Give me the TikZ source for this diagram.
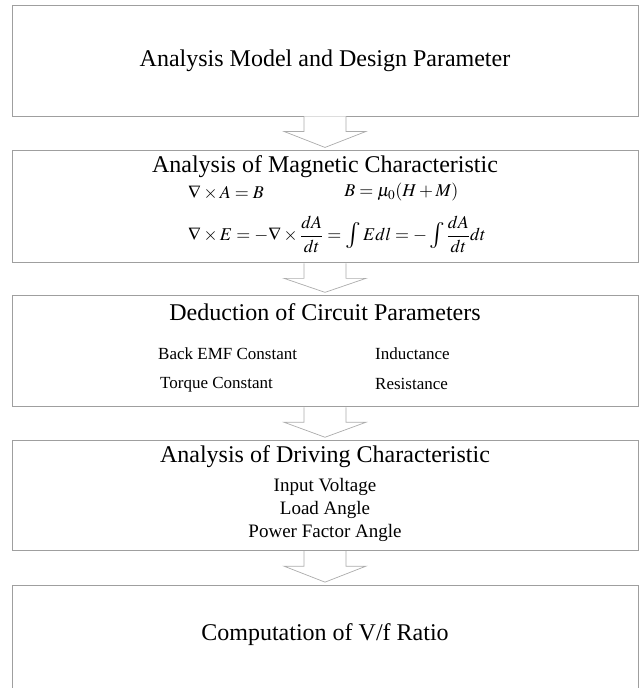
\documentclass[tikz,border=0pt]{standalone}
\usepackage{mathptmx}
\usepackage{graphicx}
\usepackage{fontspec}
\setmainfont{Liberation Serif}
\usetikzlibrary{positioning,calc}
\newcommand{\midint}{\mathop{\smash{\vcenter{\hbox{\scalebox{1.45}{$\int$}}}}}\nolimits}

\begin{document}
\begin{tikzpicture}[x=1pt, y=1pt,
  box/.style={draw=gray!75, line width=0.9pt, minimum width=626pt, inner sep=0pt},
  ttl/.style={font=\fontsize{24}{28}\selectfont, inner sep=0pt},
  itm/.style={font=\fontsize{17}{20}\selectfont, inner sep=0pt},
  drv/.style={font=\fontsize{19}{22}\selectfont, inner sep=0pt},
  eqn/.style={font=\fontsize{18}{22}\selectfont, inner sep=0pt},
  flow/.style={draw=gray!65, line width=0.7pt, fill=white},
]
  \clip (0,0) rectangle (639,-688);

  % Stage boxes
  \node[box, minimum height=111pt, ttl] (b1) at (325,-60.5) {Analysis Model and Design Parameter};
  \node[box, minimum height=112pt, below=34pt of b1] (b2) {};
  \node[box, minimum height=111pt, below=32pt of b2] (b3) {};
  \node[box, minimum height=110pt, below=33pt of b3] (b4) {};
  \node[box, minimum height=130pt, below=34pt of b4] (b5) {};

  % Magnetic characteristic
  \node[ttl] (t2) at ([yshift=-16]b2.north) {Analysis of Magnetic Characteristic};
  \node[eqn] (e2) at ([xshift=12, yshift=-84]b2.north)
    {$\displaystyle \nabla\times E=-\nabla\times\frac{dA}{dt}=\midint Edl
      =-\midint\frac{dA}{dt}dt$};
  \coordinate (r1) at ([yshift=-42]b2.north);
  \node[eqn, anchor=west] (e1a) at (r1 -| e2.west) {$\nabla\times A=B$};
  \node[eqn, right=80pt of e1a] (e1b) {$B=\mu_0(H+M)$};

  % Circuit parameters
  \node[ttl] (t3) at ([yshift=-17]b3.north) {Deduction of Circuit Parameters};
  \node[itm, anchor=west] (k1) at ([xshift=-167, yshift=-58]b3.north) {Back EMF Constant};
  \node[itm, anchor=west] (k2) at ([xshift=-165, yshift=-89]b3.north) {Torque Constant};
  \node[itm, anchor=west] (k3) at ([xshift=50, yshift=-58]b3.north) {Inductance};
  \node[itm, anchor=west] (k4) at ([xshift=50, yshift=-89]b3.north) {Resistance};

  % Driving characteristic
  \node[ttl] (t4) at ([yshift=-16]b4.north) {Analysis of Driving Characteristic};
  \node[drv] (d1) at ([yshift=-47]b4.north) {Input Voltage};
  \node[drv] (d2) at ([yshift=-70]b4.north) {Load Angle};
  \node[drv] (d3) at ([yshift=-93]b4.north) {Power Factor Angle};

  % V/f ratio
  \node[ttl] (t5) at ([yshift=-49]b5.north) {Computation of V/f Ratio};

  % Hollow block arrows between stages
  \foreach \a/\b in {b1/b2, b2/b3, b3/b4, b4/b5}
    \draw[flow] ($(\a.south)+(-21,0)$) -- ++(0,-15) -- ++(-20,0)
      -- ($(\b.north)+(0,3)$) -- ($(\a.south)+(41,-15)$) -- ++(-20,0)
      -- ($(\a.south)+(21,0)$);
\end{tikzpicture}
\end{document}
